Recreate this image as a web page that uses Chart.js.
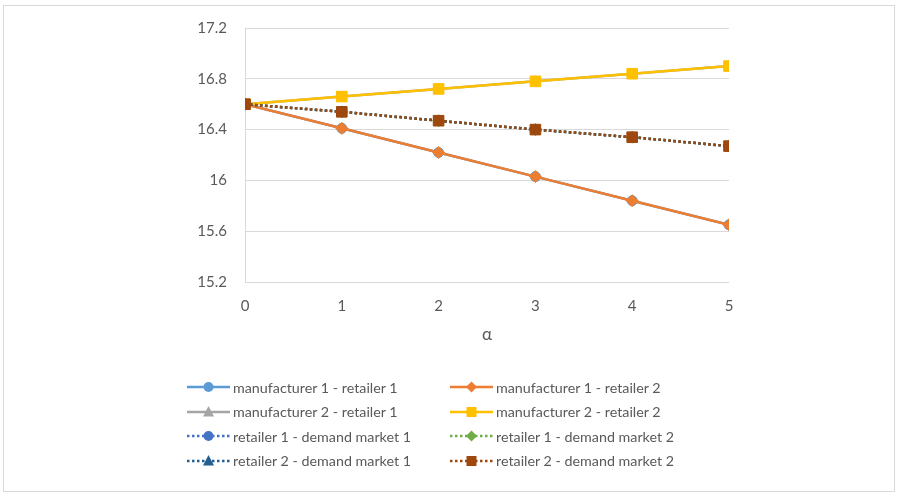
<!DOCTYPE html>
<html>
<head>
<meta charset="utf-8">
<script src="https://cdn.jsdelivr.net/npm/chart.js@4"></script>
<style>
  body { margin: 0; background: #fff; }
  #wrap { position: relative; width: 898px; height: 495px; }
  #frame { position: absolute; left: 3px; top: 5px; width: 892px; height: 487px; border: 1px solid #d9d9d9; box-sizing: border-box; }
  canvas { position: absolute; left: 0; top: 0; }
  #legend { position: absolute; left: 187px; top: 377px; display: grid; grid-template-columns: 263px 300px; row-gap: 4px;
            font-family: Lato, sans-serif; font-size: 14.3px; color: #595959; }
  .item { display: flex; align-items: center; height: 20.5px; white-space: nowrap; }
  .item svg { margin-right: 3px; }
</style>
</head>
<body>
<div id="wrap">
  <div id="frame"></div>
  <canvas id="chart" width="898" height="495"></canvas>
  <div id="legend"></div>
</div>
<script>
const alphas = [0, 1, 2, 3, 4, 5];

const m1r1 = [16.60, 16.41, 16.22, 16.03, 15.84, 15.65];
const m1r2 = [16.60, 16.41, 16.22, 16.03, 15.84, 15.65];
const m2r1 = [16.60, 16.66, 16.72, 16.78, 16.84, 16.90];
const m2r2 = [16.60, 16.66, 16.72, 16.78, 16.84, 16.90];
const r1d1 = [16.60, 16.54, 16.47, 16.40, 16.34, 16.27];
const r1d2 = [16.60, 16.54, 16.47, 16.40, 16.34, 16.27];
const r2d1 = [16.60, 16.54, 16.47, 16.40, 16.34, 16.27];
const r2d2 = [16.60, 16.54, 16.47, 16.40, 16.34, 16.27];

const yTicks = [15.2, 15.6, 16, 16.4, 16.8, 17.2];

const series = [
    { label: "manufacturer 1 - retailer 1", data: m1r1, color: "#5B9BD5", shape: "circle", r: 5, dotted: false },
    { label: "manufacturer 1 - retailer 2", data: m1r2, color: "#ED7D31", shape: "rectRot", r: 6, dotted: false },
    { label: "manufacturer 2 - retailer 1", data: m2r1, color: "#A5A5A5", shape: "triangle", r: 5.5, dotted: false },
    { label: "manufacturer 2 - retailer 2", data: m2r2, color: "#FFC000", shape: "rect", r: 7.5, dotted: false },
    { label: "retailer 1 - demand market 1", data: r1d1, color: "#4472C4", shape: "circle", r: 5, dotted: true },
    { label: "retailer 1 - demand market 2", data: r1d2, color: "#70AD47", shape: "rectRot", r: 6, dotted: true },
    { label: "retailer 2 - demand market 1", data: r2d1, color: "#255E91", shape: "triangle", r: 5.5, dotted: true },
    { label: "retailer 2 - demand market 2", data: r2d2, color: "#9E480E", shape: "rect", r: 7.5, dotted: true },
];

const dash = [2.5, 2.5];

const datasets = series.map((s) => ({
    label: s.label,
    data: alphas.map((a, i) => ({ x: a, y: s.data[i] })),
    borderColor: s.color,
    backgroundColor: s.color,
    borderWidth: 2.5,
    borderDash: s.dotted ? dash : [],
    pointStyle: s.shape,
    pointRadius: s.r,
    pointBorderWidth: 1,
    pointBackgroundColor: s.color,
    pointBorderColor: s.color,
    tension: 0,
}));

// draw later series on top, like the source
datasets.forEach((d, i) => (d.order = datasets.length - i));

new Chart(document.getElementById("chart"), {
    type: "line",
    data: { datasets: datasets },
    options: {
        responsive: false,
        animation: false,
        layout: { padding: { left: 0, right: 169, top: 28, bottom: 150 } },
        plugins: { legend: { display: false }, tooltip: { enabled: false } },
        scales: {
            x: {
                type: "linear",
                min: 0,
                max: 5,
                afterFit: (scale) => { scale.height = 63; },
                grid: { display: false },
                border: { display: false },
                ticks: { stepSize: 1, padding: 7, color: "#595959", font: { family: "Lato", size: 15 } },
                title: { display: true, text: "α", color: "#595959", padding: 0, font: { family: "Lato", size: 17 } },
            },
            y: {
                min: 15.2,
                max: 17.2,
                afterFit: (scale) => { scale.width = 245; },
                afterBuildTicks: (scale) => { scale.ticks = yTicks.map((v) => ({ value: v })); },
                grid: { color: "#D9D9D9", lineWidth: 1, drawTicks: false },
                border: { display: true, color: "#D9D9D9" },
                ticks: { padding: 18, color: "#595959", font: { family: "Lato", size: 15 },
                         callback: (v) => String(Math.round(v * 10) / 10) },
            },
        },
    },
});

// two-column legend like the source
const legend = document.getElementById("legend");
series.forEach((s) => {
    const item = document.createElement("div");
    item.className = "item";
    const w = 43, h = 16, cy = 8, cx = 21.5;
    let marker = "";
    if (s.shape === "circle") marker = `<circle cx="${cx}" cy="${cy}" r="5" fill="${s.color}"/>`;
    if (s.shape === "rectRot") marker = `<polygon points="${cx},${cy - 5.5} ${cx + 5.5},${cy} ${cx},${cy + 5.5} ${cx - 5.5},${cy}" fill="${s.color}"/>`;
    if (s.shape === "triangle") marker = `<polygon points="${cx},${cy - 6} ${cx + 5.5},${cy + 4.5} ${cx - 5.5},${cy + 4.5}" fill="${s.color}"/>`;
    if (s.shape === "rect") marker = `<rect x="${cx - 5}" y="${cy - 5}" width="10" height="10" fill="${s.color}"/>`;
    const da = s.dotted ? `stroke-dasharray="2.5 2.5"` : "";
    item.innerHTML = `<svg width="${w}" height="${h}"><line x1="0" y1="${cy}" x2="${w}" y2="${cy}" stroke="${s.color}" stroke-width="2.5" ${da}/>${marker}</svg><span>${s.label}</span>`;
    legend.appendChild(item);
});
</script>
</body>
</html>
